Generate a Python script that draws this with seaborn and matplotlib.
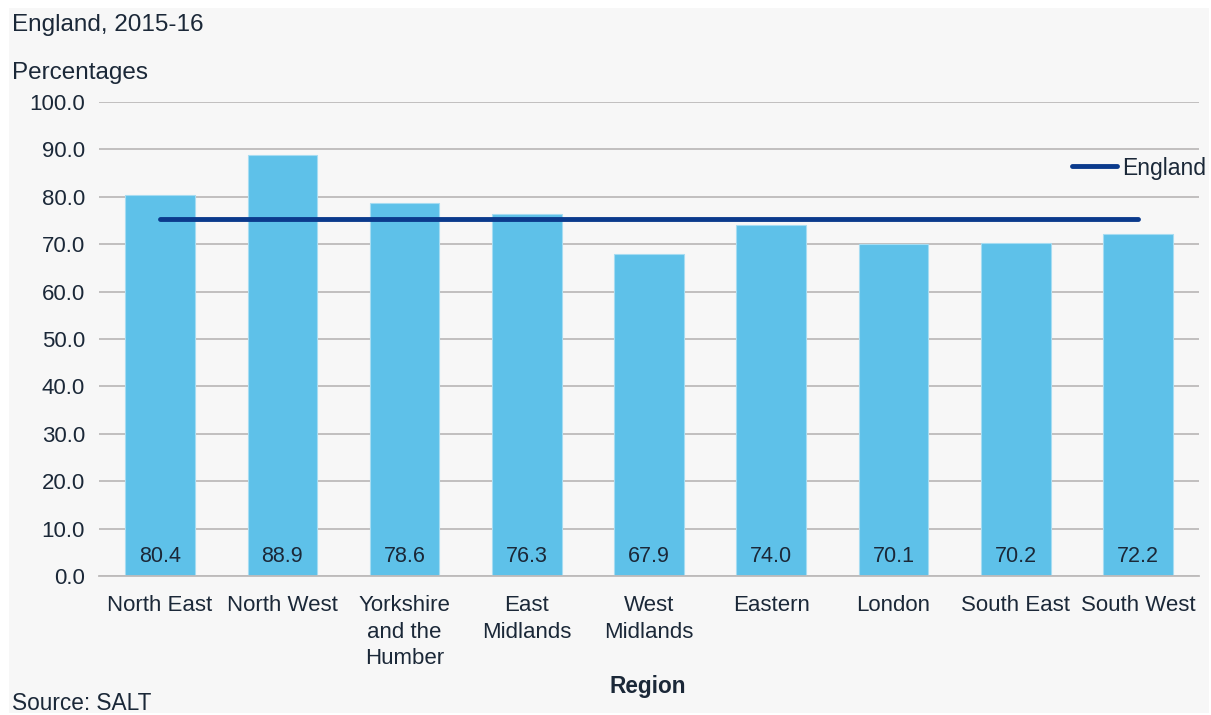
import numpy as np
import pandas as pd
import seaborn as sns
import matplotlib.pyplot as plt
from matplotlib.patches import Rectangle

regions = ["North East", "North West", "Yorkshire\nand the\nHumber", "East\nMidlands",
           "West\nMidlands", "Eastern", "London", "South East", "South West"]
values = [80.4, 88.9, 78.6, 76.3, 67.9, 74.0, 70.1, 70.2, 72.2]
england = [75.3] * len(regions)
yticks = [0, 10, 20, 30, 40, 50, 60, 70, 80, 90, 100]

text_col = "#1b2838"
bar_col = "#5ec1e9"
line_col = "#0b3a8c"
grid_col = "#bdbbbb"

sns.set_style("white")
plt.rcParams["font.family"] = ["Liberation Sans", "DejaVu Sans"]

df = pd.DataFrame({"Region": regions, "Value": values, "England": england})

fig = plt.figure(figsize=(12.11, 7.15), dpi=100)
fig.patch.set_facecolor("white")
fig.patches.append(Rectangle((9 / 1211, 2 / 715), 1200 / 1211, 705 / 715,
                             transform=fig.transFigure, facecolor="#f7f7f7",
                             edgecolor="none", zorder=-10))

ax = fig.add_axes([99 / 1211, 1 - 576 / 715, 1100 / 1211, 474 / 715])
ax.set_facecolor("none")

sns.barplot(data=df, x="Region", y="Value", color=bar_col, width=0.57,
            saturation=1, ax=ax, zorder=2, edgecolor="#a6dcf2", linewidth=0.8)
ax.plot(range(len(regions)), df["England"], color=line_col, lw=3.5,
        solid_capstyle="round", zorder=3, label="England")

for i, v in enumerate(values):
    ax.text(i, 4.2, f"{v:.1f}", ha="center", va="center", fontsize=15.5, color=text_col, zorder=4)

ax.set_ylim(0, 100)
ax.set_xlim(-0.5, len(regions) - 0.5)
ax.set_yticks(yticks)
ax.set_yticklabels([f"{t:.1f}" for t in yticks])
ax.yaxis.grid(True, color=grid_col, lw=1.3, zorder=0)
ax.set_axisbelow(True)
for s in ["left", "right", "top"]:
    ax.spines[s].set_visible(False)
ax.spines["bottom"].set_color(grid_col)
ax.spines["bottom"].set_linewidth(1.3)
ax.tick_params(axis="both", length=0, labelsize=16, labelcolor=text_col)
ax.tick_params(axis="y", pad=10)
ax.tick_params(axis="x", pad=14)
for lab in ax.get_xticklabels():
    lab.set_linespacing(1.33)
ax.set_xlabel("")
ax.set_ylabel("")

ax.legend(loc="center left", bbox_to_anchor=(1051 / 1211, 1 - 168 / 715),
          bbox_transform=fig.transFigure, frameon=False, fontsize=16.5,
          handlelength=2.0, handletextpad=0.2, labelcolor=text_col)

fig.text(12 / 1211, 1 - 25 / 715, "England, 2015-16", fontsize=17.5, color=text_col, va="center")
fig.text(12 / 1211, 1 - 73 / 715, "Percentages", fontsize=17.5, color=text_col, va="center")
fig.text(648 / 1211, 1 - 687 / 715, "Region", fontsize=16.3, fontweight="bold",
         color=text_col, ha="center", va="center")
fig.text(12 / 1211, 1 - 704 / 715, "Source: SALT", fontsize=16.3, color=text_col, va="center")

fig.savefig("out.png", dpi=100)
